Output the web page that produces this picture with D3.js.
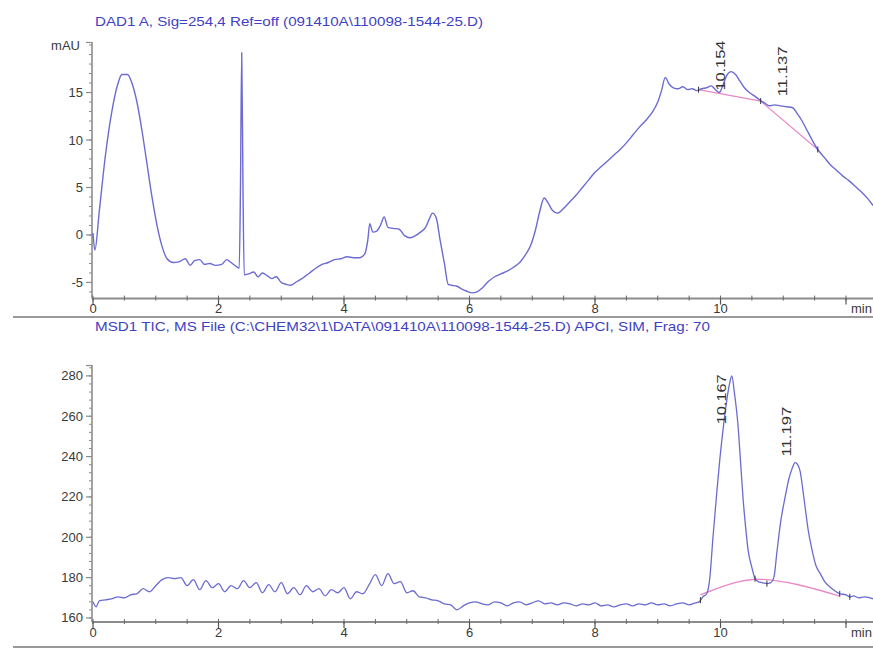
<!DOCTYPE html>
<html><head><meta charset="utf-8">
<script src="https://cdn.jsdelivr.net/npm/d3@7"></script>
<style>
body{margin:0;background:#fff;}
svg{display:block;font-family:"Liberation Sans Narrow","Arial Narrow","Liberation Sans",Arial,sans-serif;}
</style></head><body>
<svg id="c" width="873" height="657"></svg>
<script>
// ---------- DATA ----------
const dadTitle = "DAD1 A, Sig=254,4 Ref=off (091410A\\110098-1544-25.D)";
const msdTitle = "MSD1 TIC, MS File (C:\\CHEM32\\1\\DATA\\091410A\\110098-1544-25.D)  APCI, SIM, Frag: 70";
const dadUnit = "mAU";
const xTickValues = [0, 2, 4, 6, 8, 10];
const xUnitLabel = "min";
const dadYTicks = [-5, 0, 5, 10, 15];
const msdYTicks = [160, 180, 200, 220, 240, 260, 280];

const dadTime = [0.00,0.03,0.10,0.20,0.30,0.40,0.46,0.55,0.62,0.70,0.78,0.86,0.94,1.02,1.10,1.18,1.28,1.38,1.47,1.55,1.62,1.70,1.78,1.86,1.95,2.05,2.13,2.20,2.28,2.33,2.35,2.37,2.39,2.41,2.48,2.56,2.63,2.70,2.78,2.85,2.92,3.00,3.08,3.15,3.25,3.35,3.45,3.55,3.65,3.75,3.85,3.95,4.05,4.15,4.25,4.33,4.38,4.41,4.46,4.52,4.58,4.64,4.70,4.78,4.88,4.97,5.05,5.13,5.22,5.30,5.36,5.41,5.47,5.53,5.60,5.66,5.72,5.80,5.88,5.95,6.04,6.12,6.20,6.30,6.40,6.50,6.60,6.70,6.80,6.90,6.98,7.05,7.12,7.19,7.25,7.32,7.40,7.50,7.60,7.70,7.80,7.90,8.00,8.10,8.20,8.30,8.40,8.50,8.60,8.70,8.80,8.90,9.00,9.06,9.12,9.18,9.25,9.32,9.40,9.48,9.55,9.62,9.70,9.78,9.85,9.92,9.98,10.04,10.10,10.17,10.24,10.31,10.38,10.46,10.55,10.63,10.70,10.78,10.86,10.95,11.05,11.15,11.22,11.30,11.38,11.46,11.55,11.65,11.75,11.85,11.95,12.05,12.15,12.25,12.35,12.43];
const dadValue = [0.2,-1.6,2.5,8.5,13.0,16.0,16.9,16.9,16.0,14.0,11.0,7.5,4.0,1.0,-1.2,-2.5,-2.9,-2.8,-2.5,-3.2,-2.7,-2.6,-3.1,-3.0,-3.2,-3.1,-2.6,-2.9,-3.3,-3.5,5.0,19.2,5.0,-4.2,-4.1,-3.9,-4.4,-4.0,-4.3,-4.6,-4.4,-5.0,-5.2,-5.3,-4.9,-4.5,-4.0,-3.5,-3.1,-2.9,-2.6,-2.5,-2.3,-2.4,-2.4,-2.0,-0.5,1.2,0.3,0.4,1.0,1.9,0.8,0.7,0.6,-0.1,-0.3,-0.1,0.3,0.8,1.7,2.3,1.8,-0.5,-3.0,-5.2,-5.3,-5.4,-5.7,-5.9,-6.1,-6.0,-5.6,-4.9,-4.4,-4.1,-3.8,-3.4,-2.9,-2.0,-1.0,0.5,2.5,3.9,3.4,2.6,2.3,2.8,3.5,4.2,5.0,5.8,6.6,7.2,7.8,8.4,9.0,9.7,10.5,11.3,12.0,12.8,14.0,15.2,16.6,15.9,15.5,15.4,15.6,15.3,15.4,15.2,15.4,15.5,15.7,15.3,15.0,15.8,16.8,17.2,16.9,16.2,15.5,15.0,14.6,14.2,13.9,13.6,13.7,13.6,13.5,13.4,12.8,12.0,11.0,10.0,9.0,8.2,7.4,6.8,6.2,5.7,5.1,4.5,3.8,3.1];
const dadBaseTime = [9.65, 10.64, 11.55];
const dadBaseValue = [15.3, 14.1, 9.0];
const dadPeakTime = [10.154, 11.137];
const dadPeakLabel = ["10.154", "11.137"];

const msdTime = [0,0.05,0.1,0.2,0.3,0.4,0.5,0.6,0.7,0.8,0.9,1.0,1.1,1.2,1.3,1.4,1.5,1.6,1.7,1.8,1.9,2.0,2.1,2.2,2.3,2.4,2.5,2.6,2.7,2.8,2.9,3.0,3.1,3.2,3.3,3.4,3.5,3.6,3.7,3.8,3.9,4.0,4.1,4.2,4.3,4.4,4.5,4.6,4.7,4.8,4.9,5.0,5.1,5.2,5.3,5.4,5.5,5.6,5.7,5.8,5.9,6.0,6.1,6.2,6.3,6.4,6.5,6.6,6.7,6.8,6.9,7.0,7.1,7.2,7.3,7.4,7.5,7.6,7.7,7.8,7.9,8.0,8.1,8.2,8.3,8.4,8.5,8.6,8.7,8.8,8.9,9.0,9.1,9.2,9.3,9.4,9.5,9.6,9.66,9.72,9.78,9.83,9.88,9.94,9.99,10.05,10.10,10.15,10.18,10.22,10.28,10.32,10.36,10.40,10.44,10.50,10.55,10.60,10.66,10.74,10.80,10.85,10.90,10.96,11.03,11.09,11.14,11.19,11.23,11.27,11.31,11.35,11.40,11.46,11.52,11.59,11.66,11.74,11.82,11.90,12.00,12.06,12.12,12.20,12.30,12.43];
const msdValue = [168,165.5,168.5,169,169.5,170.5,170,171.5,172,174.5,173,176,179,180,179.5,180,176,179,174,178.5,175,177,173,176,174.5,178.5,175,177.5,172.5,176.5,173,177.5,172,175,171.5,176,173,174.5,171,174,172.5,175,169.5,173,172,176.5,181.5,176,182,177,178,172.5,173.5,170.5,170,169,168.5,167,166.5,164,166,167.5,168,167,166.5,168,167.5,166,167.5,168,166.5,167.5,168.5,167,167.5,166.5,167.5,167,166,167,166.5,167.5,166,166.5,165.5,166.5,167,166,167,166.5,167.5,166.5,167,166,167,167.5,166.5,167.5,168,170.5,172,180,200,222,239,256,268,277,280,272,255,237,219,205,193.5,185,179.5,178,177.5,177,177.5,180,193,208,220,229,234,237,236,232.5,224,214.5,203,193.5,186,182,178,175.5,173.5,172,171.5,170.5,171,170,170.5,169.5];
const msdBaseTime = [9.68, 9.85, 10.0, 10.15, 10.3, 10.45, 10.55, 11.9];
const msdBaseValue = [171.5, 173.5, 175.3, 176.8, 178.0, 178.8, 179.2, 170.8];
const msdMarkTime = [9.68, 10.55, 10.74, 11.9, 12.06];
const msdPeakTime = [10.167, 11.197];
const msdPeakLabel = ["10.167", "11.197"];

// ---------- DRAW ----------
const svg = d3.select("#c");
const traceColor = "#6b6bd2";
const baseColor = "#e68ac8";
const axisColor = "#8c8c8c";
const textColor = "#3a3a3a";
const titleColor = "#3f3fc4";

const x = d3.scaleLinear().domain([0, 12.43]).range([93, 873]);
const yTop = d3.scaleLinear().domain([-6.7, 20.32]).range([298.6, 42]);
const yBot = d3.scaleLinear().domain([158.0, 285.4]).range([622, 365]);

function panel(y, yTicks, minorStep, xAxisY, labelY) {
  const g = svg.append("g");
  g.append("line").attr("x1", 92).attr("x2", 92).attr("y1", y.range()[1]).attr("y2", y.range()[0])
    .attr("stroke", axisColor).attr("stroke-width", 1.6);
  g.append("line").attr("x1", 86).attr("x2", 92).attr("y1", y.range()[1]+0.5).attr("y2", y.range()[1]+0.5)
    .attr("stroke", axisColor).attr("stroke-width", 1.2);
  const [d0, d1] = y.domain();
  const minor = d3.range(Math.ceil(d0 / minorStep) * minorStep, d1, minorStep);
  g.selectAll(null).data(minor).join("line")
    .attr("x1", 89).attr("x2", 92).attr("y1", d => y(d)).attr("y2", d => y(d))
    .attr("stroke", axisColor).attr("stroke-width", 1);
  g.selectAll(null).data(yTicks).join("line")
    .attr("x1", 86).attr("x2", 92).attr("y1", d => y(d)).attr("y2", d => y(d))
    .attr("stroke", axisColor).attr("stroke-width", 1.2);
  g.selectAll(null).data(yTicks).join("text")
    .attr("x", 83).attr("y", d => y(d) + 4.5).attr("text-anchor", "end")
    .attr("font-size", 13).attr("fill", textColor).text(d => d);
  g.append("line").attr("x1", 92).attr("x2", 873).attr("y1", xAxisY).attr("y2", xAxisY)
    .attr("stroke", axisColor).attr("stroke-width", 2);
  const xm = d3.range(0, 12.43, 0.5);
  g.selectAll(null).data(xm).join("line")
    .attr("x1", d => x(d)).attr("x2", d => x(d)).attr("y1", xAxisY - 3).attr("y2", xAxisY + 2)
    .attr("stroke", "#666").attr("stroke-width", 1);
  g.selectAll(null).data(xTickValues.concat([12])).join("line")
    .attr("x1", d => x(d)).attr("x2", d => x(d)).attr("y1", xAxisY).attr("y2", xAxisY + 6)
    .attr("stroke", "#555").attr("stroke-width", 1.2);
  g.selectAll(null).data(xTickValues).join("text")
    .attr("x", d => x(d)).attr("y", labelY).attr("text-anchor", "middle")
    .attr("font-size", 13).attr("fill", textColor).text(d => d);
  g.append("text").attr("x", x(12) + 5).attr("y", labelY).attr("font-size", 13)
    .attr("fill", textColor).text(xUnitLabel);
  return g;
}

panel(yTop, dadYTicks, 1, 298.6, 313);
panel(yBot, msdYTicks, 4, 622, 637);

// separators
svg.append("line").attr("x1", 13).attr("x2", 873).attr("y1", 317).attr("y2", 317)
  .attr("stroke", "#9a9a9a").attr("stroke-width", 2);
svg.append("line").attr("x1", 13).attr("x2", 873).attr("y1", 647).attr("y2", 647)
  .attr("stroke", "#9a9a9a").attr("stroke-width", 2);

// titles
svg.append("text").attr("x", 95).attr("y", 26).attr("font-size", 13).attr("fill", titleColor)
  .attr("textLength", 388).attr("lengthAdjust", "spacingAndGlyphs").text(dadTitle);
svg.append("text").attr("x", 95).attr("y", 331).attr("font-size", 13).attr("fill", titleColor)
  .attr("textLength", 615).attr("lengthAdjust", "spacingAndGlyphs").text(msdTitle);
svg.append("text").attr("x", 80).attr("y", 50).attr("text-anchor", "end").attr("font-size", 13)
  .attr("fill", textColor).text(dadUnit);

// traces
const dadData = dadTime.map((t, i) => [t, dadValue[i]]);
const msdData = msdTime.map((t, i) => [t, msdValue[i]]);
const lineTop = d3.line().x(d => x(d[0])).y(d => yTop(d[1]));
const lineBot = d3.line().x(d => x(d[0])).y(d => yBot(d[1])).curve(d3.curveMonotoneX);

svg.append("path").datum(dadBaseTime.map((t, i) => [t, dadBaseValue[i]]))
  .attr("d", lineTop).attr("fill", "none").attr("stroke", baseColor).attr("stroke-width", 1.2);
svg.append("path").datum(msdBaseTime.map((t, i) => [t, msdBaseValue[i]]))
  .attr("d", lineBot).attr("fill", "none").attr("stroke", baseColor).attr("stroke-width", 1.4);

svg.append("path").datum(dadData).attr("d", lineTop.curve(d3.curveMonotoneX))
  .attr("fill", "none").attr("stroke", traceColor).attr("stroke-width", 1.4);
svg.append("path").datum(msdData).attr("d", lineBot)
  .attr("fill", "none").attr("stroke", traceColor).attr("stroke-width", 1.3);

// peak start/end markers
svg.selectAll(null).data(dadBaseTime.map((t, i) => [t, dadBaseValue[i]])).join("line")
  .attr("x1", d => x(d[0])).attr("x2", d => x(d[0])).attr("y1", d => yTop(d[1]) - 3).attr("y2", d => yTop(d[1]) + 3)
  .attr("stroke", "#333").attr("stroke-width", 1);
const msdInterp = t => { const i = d3.bisector(d => d[0]).left(msdData, t); const a = msdData[Math.max(0, i - 1)], b = msdData[i]; return a[1] + (b[1] - a[1]) * ((t - a[0]) / ((b[0] - a[0]) || 1)); };
svg.selectAll(null).data(msdMarkTime).join("line")
  .attr("x1", d => x(d)).attr("x2", d => x(d)).attr("y1", d => yBot(msdInterp(d)) - 3).attr("y2", d => yBot(msdInterp(d)) + 3)
  .attr("stroke", "#333").attr("stroke-width", 1);

// peak labels (rotated)
function peakLabels(times, labels, y, bottomVals) {
  svg.selectAll(null).data(times).join("text")
    .attr("transform", (d, i) => `translate(${x(d) - 5},${y(bottomVals[i])}) rotate(-90)`)
    .attr("font-size", 13).attr("fill", "#333")
    .attr("textLength", 50).attr("lengthAdjust", "spacingAndGlyphs")
    .text((d, i) => labels[i]);
}
peakLabels(dadPeakTime, dadPeakLabel, yTop, [15.2, 14.6]);
peakLabels(msdPeakTime, msdPeakLabel, yBot, [256, 240]);
</script>
</body></html>
